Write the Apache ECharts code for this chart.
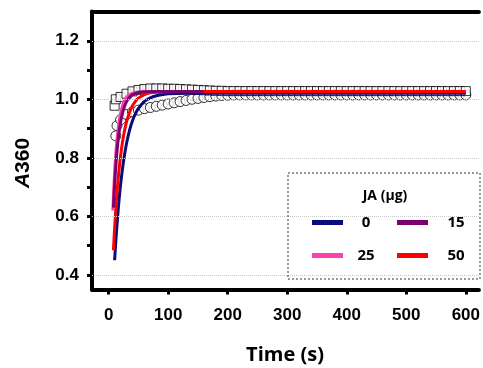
<!DOCTYPE html>
<html>
<head>
<meta charset="utf-8">
<script src="https://cdn.jsdelivr.net/npm/echarts@6/dist/echarts.min.js"></script>
<style>
  html, body { margin: 0; padding: 0; background: #fff; }
  #chart { width: 483px; height: 368px; }
</style>
</head>
<body>
<div id="chart"></div>
<script>
// JA amounts (µg) in the legend, same order as the fitted curves
const doses = ["0", "15", "25", "50"];
const doseColors = ["#0a0a78", "#7a0070", "#ff40a8", "#ff0000"];

// fitted curves: [time (s), A360]
const fit0 = [[10, 0.45], [12, 0.515], [14, 0.572], [16, 0.623], [18, 0.668], [20, 0.708], [23, 0.759],
  [26, 0.802], [30, 0.849], [35, 0.894], [40, 0.927], [45, 0.951], [50, 0.969], [60, 0.993], [70, 1.005],
  [80, 1.012], [90, 1.016], [100, 1.019], [120, 1.020], [150, 1.021], [600, 1.021]];
const fit15 = [[8, 0.63], [10, 0.708], [12, 0.771], [14, 0.822], [16, 0.862], [18, 0.895], [20, 0.921],
  [23, 0.951], [26, 0.972], [30, 0.992], [35, 1.007], [40, 1.015], [50, 1.023], [60, 1.026], [80, 1.027],
  [160, 1.027]];
const fit25 = [[7, 0.62], [9, 0.713], [11, 0.785], [13, 0.84], [15, 0.883], [17, 0.916], [20, 0.952],
  [23, 0.976], [26, 0.993], [30, 1.007], [35, 1.016], [40, 1.021], [50, 1.025], [60, 1.026], [160, 1.027]];
const fit50 = [[8, 0.484], [10, 0.56], [12, 0.625], [14, 0.681], [16, 0.729], [18, 0.771], [20, 0.806],
  [23, 0.851], [26, 0.886], [30, 0.923], [35, 0.955], [40, 0.978], [45, 0.993], [50, 1.004], [60, 1.016],
  [70, 1.022], [80, 1.0245], [100, 1.026], [150, 1.027], [600, 1.027]];

// measured points (open circles)
const circleTimes = [12, 14, 20, 30, 40, 50, 60, 70, 80, 90, 100, 110, 120, 130, 140, 150, 160, 170, 180, 190,
  200, 210, 220, 230, 240, 250, 260, 270, 280, 290, 300, 310, 320, 330, 340, 350, 360, 370, 380, 390,
  400, 410, 420, 430, 440, 450, 460, 470, 480, 490, 500, 510, 520, 530, 540, 550, 560, 570, 580, 590, 600];
const circleValues = [0.875, 0.91, 0.93, 0.948, 0.957, 0.963, 0.968, 0.972, 0.976, 0.98, 0.984, 0.988, 0.992, 0.996, 1.0, 1.003, 1.006, 1.009, 1.011, 1.013,
  1.014, 1.015, 1.015, 1.015, 1.015, 1.015, 1.015, 1.015, 1.015, 1.015, 1.015, 1.015, 1.015, 1.015, 1.015, 1.015, 1.015, 1.015, 1.015, 1.015,
  1.015, 1.015, 1.015, 1.015, 1.015, 1.015, 1.015, 1.015, 1.015, 1.015, 1.015, 1.015, 1.015, 1.015, 1.015, 1.015, 1.015, 1.015, 1.015, 1.015, 1.015];

// measured points (open squares)
const squareTimes = [10, 12, 20, 30, 40, 50, 60, 70, 80, 90, 100, 110, 120, 130, 140, 150, 160, 170, 180, 190,
  200, 210, 220, 230, 240, 250, 260, 270, 280, 290, 300, 310, 320, 330, 340, 350, 360, 370, 380, 390,
  400, 410, 420, 430, 440, 450, 460, 470, 480, 490, 500, 510, 520, 530, 540, 550, 560, 570, 580, 590, 600];
const squareValues = [0.978, 1.0, 1.008, 1.019, 1.027, 1.032, 1.035, 1.037, 1.037, 1.037, 1.036, 1.036, 1.035, 1.034, 1.033, 1.032, 1.031, 1.03, 1.029, 1.029,
  1.028, 1.028, 1.028, 1.028, 1.028, 1.028, 1.028, 1.028, 1.028, 1.028, 1.028, 1.028, 1.028, 1.028, 1.028, 1.028, 1.028, 1.028, 1.028, 1.028,
  1.028, 1.028, 1.028, 1.028, 1.028, 1.028, 1.028, 1.028, 1.028, 1.028, 1.028, 1.028, 1.028, 1.028, 1.028, 1.028, 1.028, 1.028, 1.028, 1.028, 1.028];

const xTicks = [0, 100, 200, 300, 400, 500, 600];
const yTicks = [0.4, 0.5, 0.6, 0.7, 0.8, 0.9, 1.0, 1.1, 1.2];
const yLabels = [0.4, 0.6, 0.8, 1.0, 1.2];

const chart = echarts.init(document.getElementById("chart"));

const fits = [fit0, fit15, fit25, fit50];
// draw order: navy, red, then pink/purple on top
const drawOrder = [0, 3, 2, 1];

const lineSeries = drawOrder.map((i) => ({
  name: doses[i],
  type: "line",
  data: fits[i],
  showSymbol: false,
  smooth: 0.3,
  color: doseColors[i],
  lineStyle: { width: 3, color: doseColors[i] },
  z: 4,
  silent: true
}));

const legendPos = [
  { left: 312, top: 215, w: 36 },
  { left: 397, top: 215, w: 46 },
  { left: 312, top: 248, w: 36 },
  { left: 397, top: 248, w: 46 }
];

const legends = doses.map((d, i) => ({
  data: [{ name: d, icon: "rect" }],
  left: legendPos[i].left,
  top: legendPos[i].top,
  padding: 0,
  itemWidth: 31,
  itemHeight: 5,
  selectedMode: false,
  formatter: "{a|{name}}",
  textStyle: {
    rich: {
      a: {
        width: legendPos[i].w,
        align: "center",
        fontSize: 15,
        lineHeight: 16,
        fontWeight: "bold",
        fontFamily: "Open Sans",
        color: "#000"
      }
    }
  }
}));

chart.setOption({
  animation: false,
  backgroundColor: "#fff",
  grid: { left: 92, right: 0, top: 11.5, bottom: 78.5 },
  legend: legends,
  xAxis: [
    {
      type: "value",
      min: -28,
      max: 622,
      axisLine: { show: true, onZero: false, lineStyle: { color: "#000", width: 4 } },
      axisTick: { show: true, customValues: xTicks, length: 5, lineStyle: { color: "#000", width: 3 } },
      axisLabel: {
        customValues: xTicks,
        margin: 17,
        color: "#000",
        fontSize: 17,
        fontWeight: "bold",
        fontFamily: "Liberation Sans"
      },
      splitLine: { show: false }
    },
    {
      type: "value",
      position: "top",
      min: -28,
      max: 622,
      axisLine: { show: true, onZero: false, lineStyle: { color: "#000", width: 4 } },
      axisTick: { show: false },
      axisLabel: { show: false },
      splitLine: { show: false }
    }
  ],
  yAxis: {
    type: "value",
    min: 0.35,
    max: 1.3,
    axisLine: { show: true, onZero: false, lineStyle: { color: "#000", width: 4 } },
    axisTick: { show: true, customValues: yTicks, length: 5, lineStyle: { color: "#000", width: 3 } },
    axisLabel: {
      customValues: yLabels,
      margin: 13,
      color: "#000",
      fontSize: 17,
      fontWeight: "bold",
      fontFamily: "Liberation Sans",
      formatter: (v) => v.toFixed(1)
    },
    splitLine: { show: false }
  },
  series: [
    {
      // dotted grid lines
      name: "grid",
      type: "line",
      data: [],
      z: 1,
      silent: true,
      markLine: {
        silent: true,
        symbol: ["none", "none"],
        label: { show: false },
        lineStyle: { color: "#c8c8c8", type: "dotted", width: 1 },
        data: yLabels.map((v) => ({ yAxis: v }))
      }
    },
    {
      name: "circles",
      type: "scatter",
      symbol: "circle",
      symbolSize: 10,
      data: circleTimes.map((t, i) => [t, circleValues[i]]),
      itemStyle: { color: "#fff", borderColor: "#000", borderWidth: 1 },
      z: 2,
      silent: true
    },
    {
      name: "squares",
      type: "scatter",
      symbol: "rect",
      symbolSize: 9,
      data: squareTimes.map((t, i) => [t, squareValues[i]]),
      itemStyle: { color: "#fff", borderColor: "#000", borderWidth: 1 },
      z: 3,
      silent: true
    },
    ...lineSeries
  ],
  graphic: [
    {
      type: "rect",
      shape: { x: 288, y: 173, width: 192, height: 106 },
      style: { fill: "none", stroke: "#333", lineWidth: 1, lineDash: [2, 2] },
      z: 10
    },
    {
      type: "text",
      x: 385,
      y: 196,
      style: {
        text: "JA (µg)",
        align: "center",
        verticalAlign: "middle",
        font: "bold 14px 'Open Sans'",
        fill: "#000"
      },
      z: 10
    },
    {
      type: "text",
      x: 23,
      y: 163,
      rotation: Math.PI / 2,
      style: {
        text: "{i|A}{n|360}",
        align: "center",
        verticalAlign: "middle",
        rich: {
          i: { fontSize: 21, fontWeight: "bold", fontStyle: "italic", fontFamily: "Liberation Sans", color: "#000" },
          n: { fontSize: 21, fontWeight: "bold", fontFamily: "Liberation Sans", color: "#000" }
        }
      },
      z: 10
    },
    {
      type: "text",
      x: 285,
      y: 355,
      style: {
        text: "Time (s)",
        align: "center",
        verticalAlign: "middle",
        font: "bold 20px 'Open Sans'",
        fill: "#000"
      },
      z: 10
    }
  ]
});
</script>
</body>
</html>
